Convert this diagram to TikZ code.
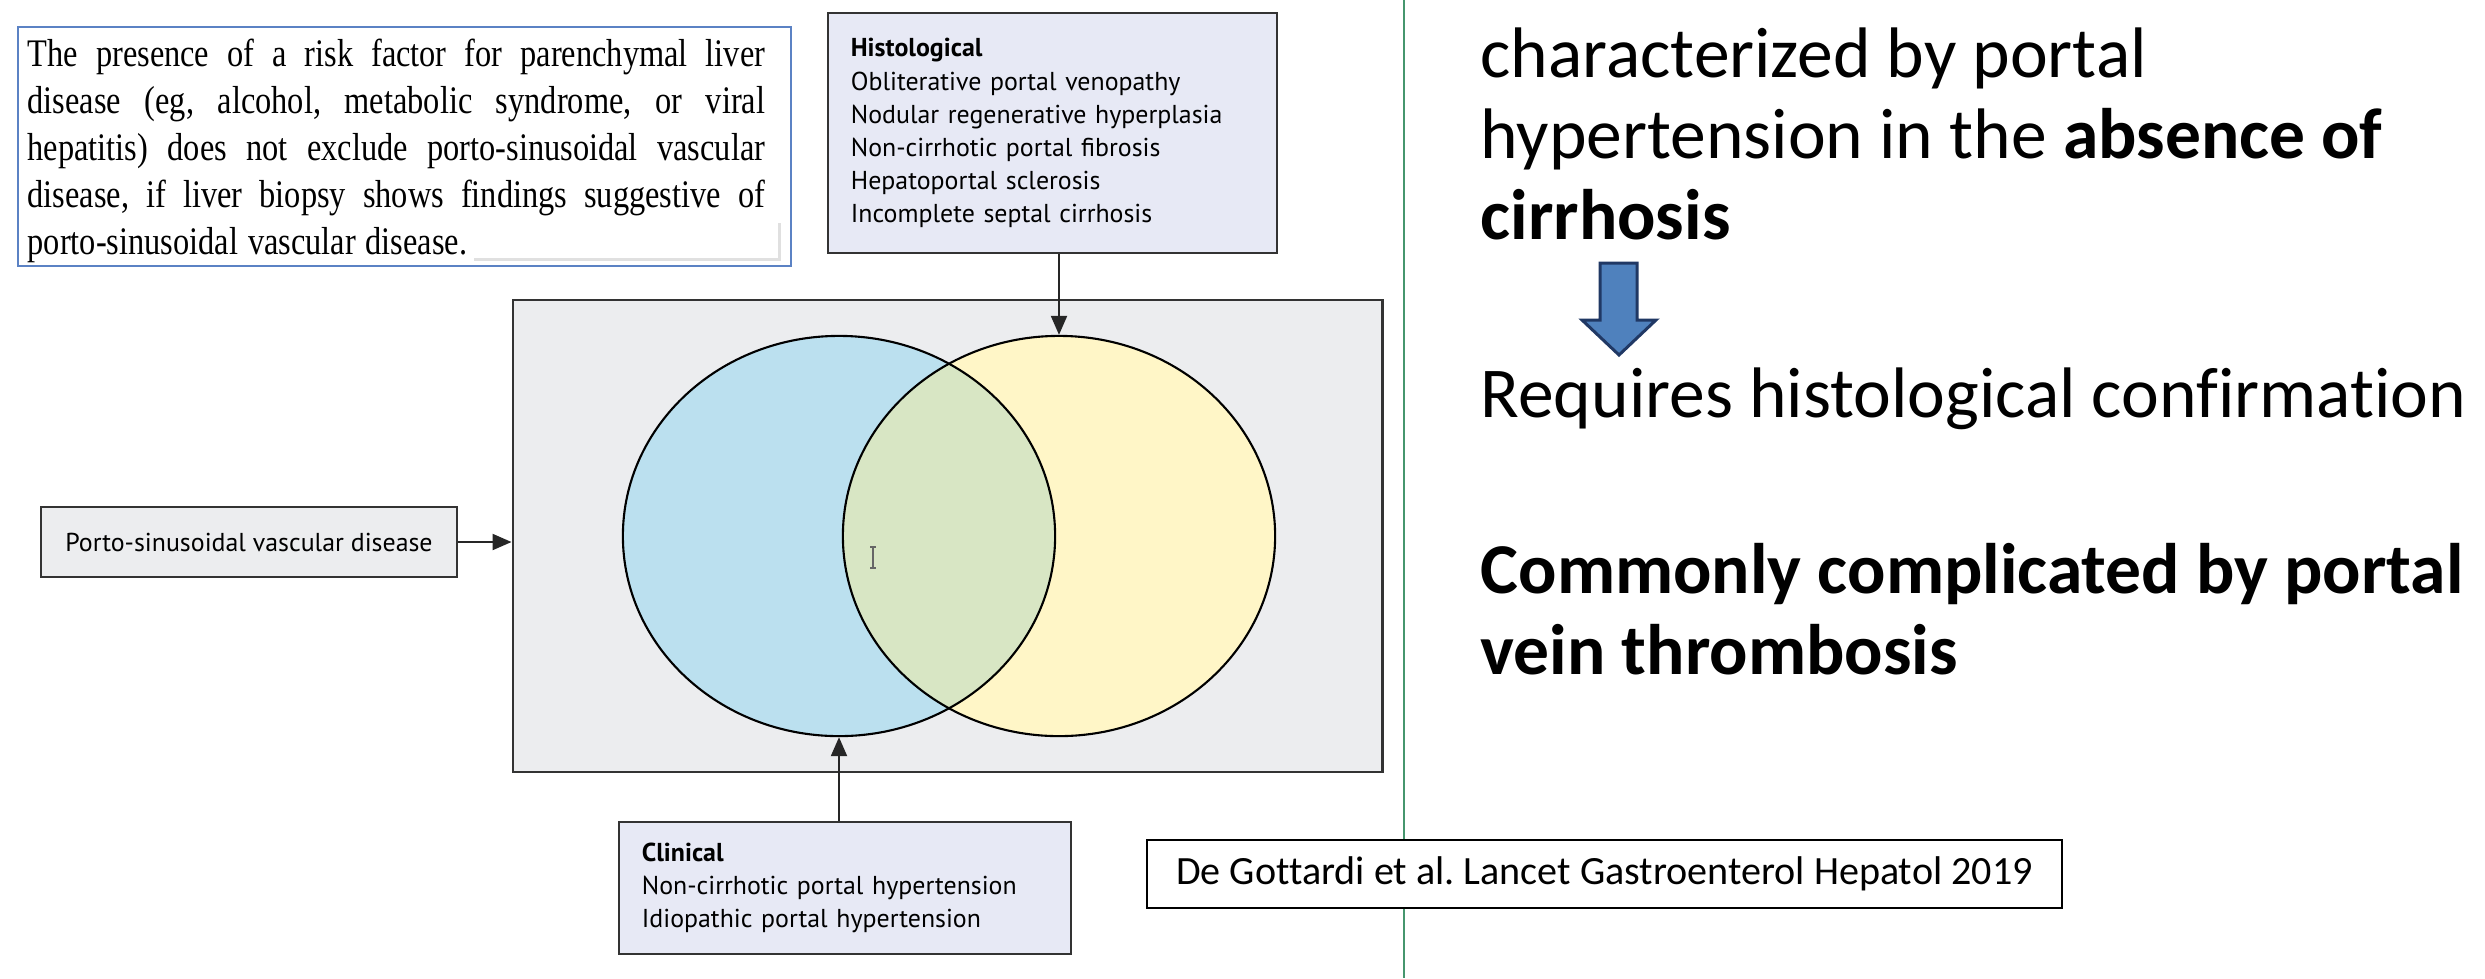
\documentclass[tikz,border=0pt]{standalone}
\usepackage{fontspec}
\setmainfont{Carlito}[Ligatures=NoCommon]
\newfontfamily\figfont{PT Sans}
\newfontfamily\paperfont[FakeStretch=0.83]{Liberation Serif}
\usetikzlibrary{arrows.meta, shapes.geometric}
\definecolor{lavender}{HTML}{E7E9F5}
\definecolor{panelgray}{HTML}{ECEDEF}
\definecolor{setblue}{HTML}{BBE0EF}
\definecolor{setyellow}{HTML}{FFF6C7}
\definecolor{setboth}{HTML}{D8E6C4}
\definecolor{quoteframe}{HTML}{5B82C4}
\definecolor{dividergreen}{HTML}{46966E}
\definecolor{arrowblue}{HTML}{4F81BD}
\definecolor{arrownavy}{HTML}{203864}
\newcommand{\quoteline}[1]{\makebox[7.37cm][s]{\spaceskip=0.25em plus 2em\relax #1}}
\frenchspacing
\tikzset{
  figbox/.style={draw=black!80, line width=0.7pt, inner sep=0pt,
    font=\figfont\fontsize{7.36pt}{9.4pt}\selectfont},
  listbox/.style={figbox, fill=lavender, align=left, inner xsep=0.23cm},
  setshape/.style={ellipse, draw=black, line width=0.6pt,
    minimum width=4.32cm, minimum height=4cm, inner sep=0pt},
  link/.style={draw=black!85, line width=0.6pt,
    -{Triangle[length=0.19cm, width=0.16cm]}},
  slidetext/.style={anchor=base west, inner sep=0pt,
    font=\fontsize{20.34pt}{23pt}\selectfont},
}

\begin{document}
\begin{tikzpicture}[x=0.01cm, y=-0.01cm]
\useasboundingbox (0,0) rectangle (2485,978);
\fill[white] (0,0) rectangle (2485,978);

% quoted statement
\draw[quoteframe, line width=0.55pt] (18,27) rectangle (791,266);
\node[anchor=north west, inner sep=0pt, text width=7.37cm, align=left,
  font=\paperfont\fontsize{11.1pt}{13.37pt}\selectfont] (quote) at (27,38.5) {%
  \noindent\spaceskip=0.25em\relax
  \quoteline{The presence of a risk factor for parenchymal liver}\\
  \quoteline{disease (eg, alcohol, metabolic syndrome, or viral}\\
  \quoteline{hepatitis) does not exclude porto-sinusoidal vascular}\\
  \quoteline{disease, if liver biopsy shows findings suggestive of}\\
  porto-sinusoidal vascular disease.};
\fill[black!12] (474,223) rectangle (781,261);
\fill[white] (471,220) rectangle (778,258);

% Venn panel
\node[figbox, fill=panelgray, minimum width=8.69cm, minimum height=4.72cm] (panel) at (947.5,536) {};
\fill[setblue] (839,536) ellipse [x radius=2.16cm, y radius=2cm];
\fill[setyellow] (1059,536) ellipse [x radius=2.16cm, y radius=2cm];
\begin{scope}
  \clip (839,536) ellipse [x radius=2.16cm, y radius=2cm];
  \fill[setboth] (1059,536) ellipse [x radius=2.16cm, y radius=2cm];
\end{scope}
\node[setshape] (clinset) at (839,536) {};
\node[setshape] (histset) at (1059,536) {};
% text cursor
\draw[black!60, line width=0.3pt] (870,547) -- (876,547) (873,547) -- (873,568) (870,568) -- (876,568);

% boxes round the panel
\node[listbox, text width=4.03cm, minimum height=2.4cm] (histbox) at (1052.5,133) {%
  \textbf{Histological}\\
  Obliterative portal venopathy\\
  Nodular regenerative hyperplasia\\
  Non-cirrhotic portal fibrosis\\
  Hepatoportal sclerosis\\
  Incomplete septal cirrhosis};
\node[listbox, text width=4.06cm, minimum height=1.32cm] (clinbox) at (845,888) {%
  \textbf{Clinical}\\
  Non-cirrhotic portal hypertension\\
  Idiopathic portal hypertension};
\node[figbox, fill=panelgray, minimum width=4.16cm, minimum height=0.7cm] (psvdbox) at (249,542) {Porto-sinusoidal vascular disease};

\draw[link] (histbox.south -| histset.north) -- (histset.north);
\draw[link] (clinbox.north -| clinset.south) -- (clinset.south);
\draw[link] (psvdbox.east) -- (psvdbox.east -| panel.west);

% right column
\draw[dividergreen, line width=0.4pt] (1404,0) -- (1404,978);
\node[draw=black, fill=white, line width=0.5pt, minimum width=9.15cm, minimum height=0.68cm,
  inner sep=0pt, font=\fontsize{11.4pt}{13pt}\selectfont] (cite) at (1604.5,874)
  {De Gottardi et al. Lancet Gastroenterol Hepatol 2019};

\node[slidetext] (def1) at (1480,77) {characterized by portal};
\node[slidetext] (def2) at (1480,158) {hypertension in the \textbf{absence of}};
\node[slidetext] (def3) at (1480,239) {\textbf{cirrhosis}};
\filldraw[fill=arrowblue, draw=arrownavy, line width=0.85pt]
  (1600,263) -- (1637,263) -- (1637,320) -- (1656,320) -- (1619,355)
  -- (1582,320) -- (1600,320) -- cycle;
\node[slidetext] (histreq) at (1480,417) {Requires histological confirmation};
\node[slidetext] (comp1) at (1480,593) {\textbf{Commonly complicated by portal}};
\node[slidetext] (comp2) at (1480,674) {\textbf{vein thrombosis}};
\end{tikzpicture}
\end{document}
